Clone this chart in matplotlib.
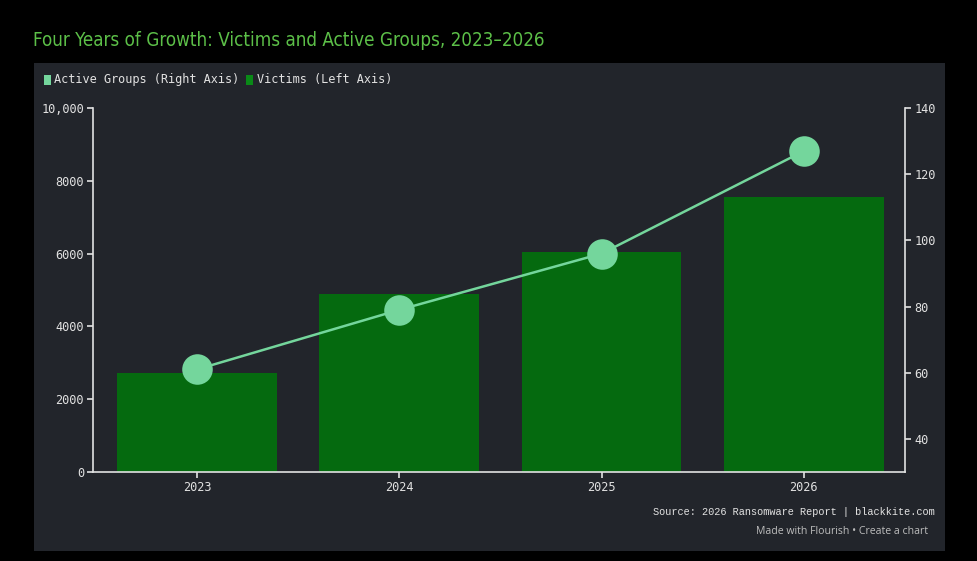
import matplotlib.pyplot as plt
from matplotlib.patches import Rectangle

# data
years = ["2023", "2024", "2025", "2026"]
victims = [2720, 4890, 6040, 7550]
active_groups = [61, 79, 96, 127]

left_ticks = [0, 2000, 4000, 6000, 8000, 10000]
left_labels = ["0", "2000", "4000", "6000", "8000", "10,000"]
right_ticks = [40, 60, 80, 100, 120, 140]

bg = "#000000"
panel = "#22252b"
bar_col = "#056a0f"
line_col = "#74d69c"
txt = "#e2e2e2"

fig = plt.figure(figsize=(9.77, 5.61), dpi=100, facecolor=bg)

# dark panel behind the chart
fig.patches.append(Rectangle((34 / 977, 1 - 551 / 561), (945 - 34) / 977, (551 - 63) / 561,
                             transform=fig.transFigure, facecolor=panel, edgecolor="none", zorder=-5))

fig.text(33 / 977, 1 - 40 / 561, "Four Years of Growth: Victims and Active Groups, 2023\u20132026",
         family="DejaVu Sans", fontstretch="condensed", fontsize=13.5, color="#5cbf48", va="center")

# legend
mono = "DejaVu Sans Mono"
fig.patches.append(Rectangle((44 / 977, 1 - 85 / 561), 7 / 977, 10 / 561, transform=fig.transFigure,
                             facecolor=line_col, edgecolor="none", zorder=2))
fig.text(54 / 977, 1 - 80 / 561, "Active Groups (Right Axis)", family=mono, fontsize=8.6, color=txt, va="center")
fig.patches.append(Rectangle((246 / 977, 1 - 85 / 561), 7 / 977, 10 / 561, transform=fig.transFigure,
                             facecolor="#0a8a17", edgecolor="none", zorder=2))
fig.text(257 / 977, 1 - 80 / 561, "Victims (Left Axis)", family=mono, fontsize=8.6, color=txt, va="center")

ax = fig.add_axes([93 / 977, 1 - 472 / 561, (905 - 93) / 977, (472 - 108) / 561])
ax.set_facecolor("none")
x = range(len(years))
ax.bar(x, victims, width=0.79, color=bar_col, zorder=2)
ax.set_xlim(-0.514, 3.5)
ax.set_ylim(0, 10000)
ax.set_xticks(list(x))
ax.set_xticklabels(years)
ax.set_yticks(left_ticks)
ax.set_yticklabels(left_labels)

ax2 = ax.twinx()
ax2.plot(list(x), active_groups, color=line_col, lw=1.8, marker="o", ms=22,
         markerfacecolor=line_col, markeredgecolor="none", zorder=3)
ax2.set_ylim(30, 140)
ax2.set_yticks(right_ticks)

for a in (ax, ax2):
    for s in a.spines.values():
        s.set_visible(False)
    a.tick_params(colors=txt, labelcolor=txt, length=4, width=1.2, labelsize=8.6, pad=2.5)
    for lab in a.get_xticklabels() + a.get_yticklabels():
        lab.set_family(mono)
ax.spines["left"].set_visible(True)
ax.spines["bottom"].set_visible(True)
ax.spines["left"].set_color(txt)
ax.spines["bottom"].set_color(txt)
ax.spines["left"].set_linewidth(1.2)
ax.spines["bottom"].set_linewidth(1.2)
ax2.spines["right"].set_visible(True)
ax2.spines["right"].set_color(txt)
ax2.spines["right"].set_linewidth(1.2)

fig.text(935 / 977, 1 - 512 / 561, "Source: 2026 Ransomware Report | blackkite.com",
         family="Liberation Mono", fontsize=7.4, color=txt, ha="right", va="center")
fig.text(928 / 977, 1 - 532 / 561, "Made with Flourish \u2022 Create a chart",
         family="Open Sans", fontsize=7.6, color="#bdbdbd", ha="right", va="center")

fig.savefig("out.png", dpi=100, facecolor=bg)
